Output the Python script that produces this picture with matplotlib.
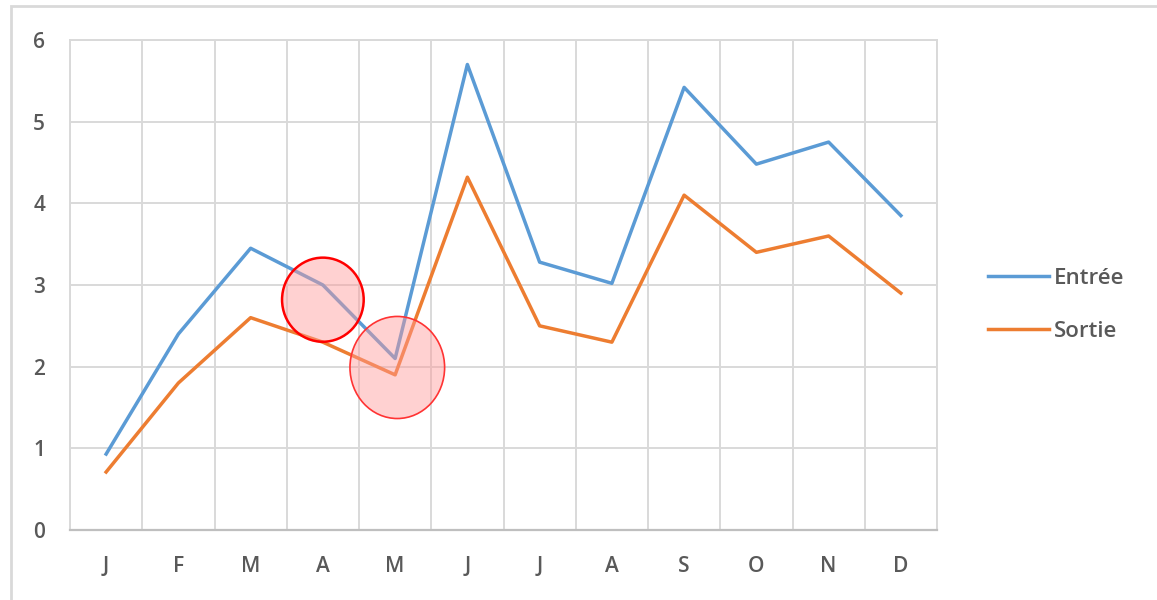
import matplotlib
matplotlib.use("Agg")
import matplotlib.pyplot as plt
from matplotlib.patches import Ellipse, Rectangle

months = ["J", "F", "M", "A", "M", "J", "J", "A", "S", "O", "N", "D"]
entree = [0.93, 2.4, 3.45, 3.0, 2.1, 5.7, 3.28, 3.02, 5.42, 4.48, 4.75, 3.85]
sortie = [0.71, 1.8, 2.6, 2.3, 1.9, 4.32, 2.5, 2.3, 4.1, 3.4, 3.6, 2.9]
yticks = [0, 1, 2, 3, 4, 5, 6]

# highlight circles: (category index, value, width, height)
circle1 = (3.0, 2.82, 1.13, 1.03)
circle2 = (4.03, 1.99, 1.31, 1.25)

plt.rcParams['font.family'] = ['Open Sans', 'DejaVu Sans']

fig = plt.figure(figsize=(11.57, 6.0), dpi=100)
fig.patches.append(Rectangle((11/1157, -0.1), 1.2, 1 - 6/600 + 0.1,
                             transform=fig.transFigure, fill=False,
                             edgecolor='#d9d9d9', linewidth=2.0))
ax = fig.add_axes([70/1157, 1 - 530/600, (937 - 70)/1157, (530 - 40)/600])

x = list(range(len(months)))
ax.plot(x, entree, color='#5B9BD5', linewidth=2.5, label='Entrée', zorder=3)
ax.plot(x, sortie, color='#ED7D31', linewidth=2.5, label='Sortie', zorder=3)

ax.set_xlim(-0.5, len(months) - 0.5)
ax.set_ylim(0, 6)
ax.set_yticks(yticks)
ax.set_xticks(x)
ax.set_xticklabels(months)
ax.set_xticks([i + 0.5 for i in range(-1, len(months))], minor=True)
ax.grid(True, which='minor', axis='x', color='#d9d9d9', linewidth=1.4)
ax.grid(True, which='major', axis='y', color='#d9d9d9', linewidth=1.4)
ax.set_axisbelow(True)
ax.tick_params(axis='both', which='both', length=0)
ax.tick_params(axis='y', pad=18, labelsize=15, labelcolor='#595959')
ax.tick_params(axis='x', pad=19, labelsize=15, labelcolor='#595959')
for lbl in ax.get_xticklabels() + ax.get_yticklabels():
    lbl.set_fontweight('semibold')
for s in ['top', 'right', 'left']:
    ax.spines[s].set_color('#d9d9d9')
    ax.spines[s].set_linewidth(1.4)
ax.spines['bottom'].set_color('#bfbfbf')
ax.spines['bottom'].set_linewidth(1.6)

for (cx, cy, w, h), lw, ec in [(circle1, 1.8, '#ff0000'), (circle2, 1.2, '#ff3333')]:
    ax.add_patch(Ellipse((cx, cy), w, h, facecolor=(1.0, 0.6, 0.6, 0.45),
                         edgecolor=ec, linewidth=lw, zorder=4))

leg = ax.legend(loc='center left', bbox_to_anchor=(968/1157, 1 - 305/600),
                bbox_transform=fig.transFigure, frameon=False,
                prop={'size': 16, 'weight': 'semibold'},
                handlelength=2.75, handletextpad=0.2, labelspacing=1.42)
for t in leg.get_texts():
    t.set_color('#595959')

fig.savefig('out.png', dpi=100)
